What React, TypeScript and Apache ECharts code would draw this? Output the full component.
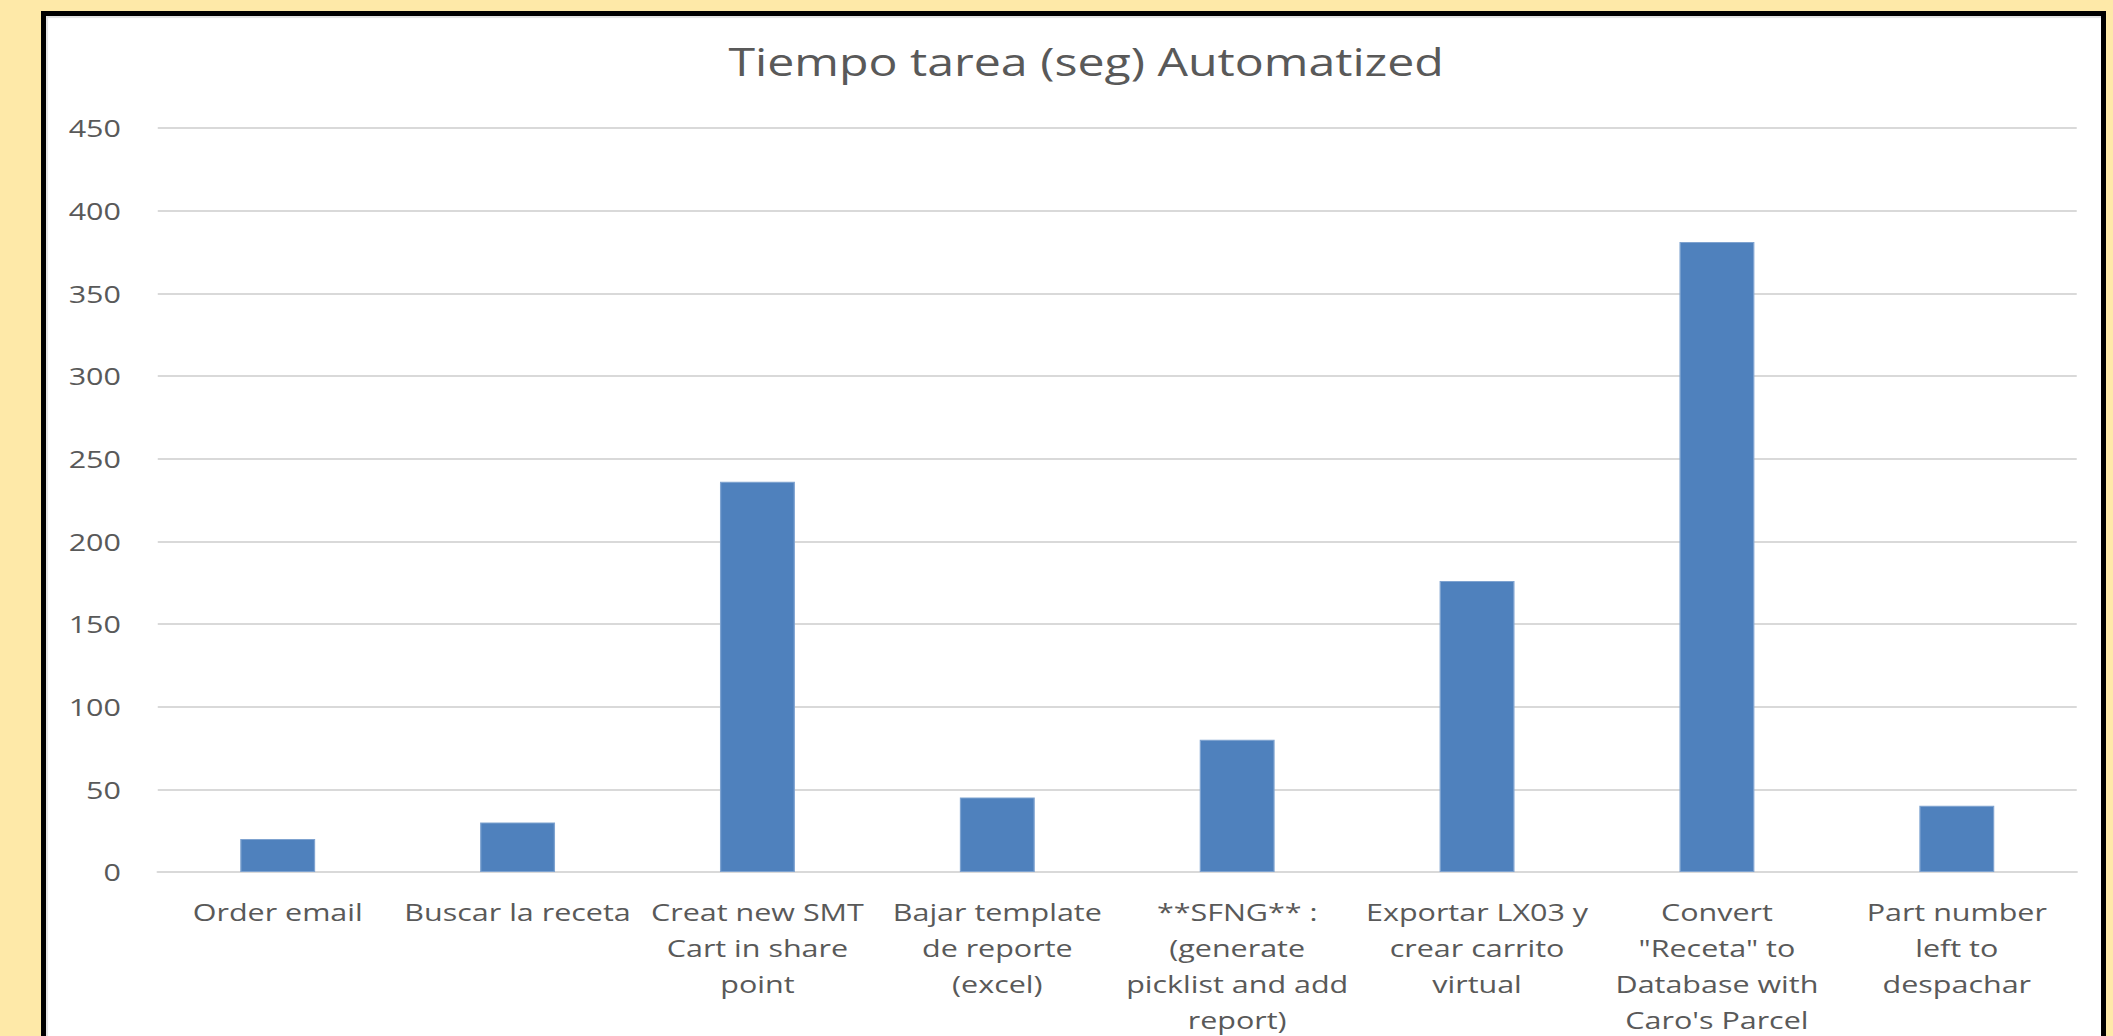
import React, { useEffect, useRef } from "react";
import * as echarts from "echarts";

const titleText = "Tiempo tarea (seg) Automatized";

const categories = [
  "Order email",
  "Buscar la receta",
  "Creat new SMT\nCart in share\npoint",
  "Bajar template\nde reporte\n(excel)",
  "**SFNG** :\n(generate\npicklist and add\nreport)",
  "Exportar LX03 y\ncrear carrito\nvirtual",
  "Convert\n\"Receta\" to\nDatabase with\nCaro's Parcel",
  "Part number\nleft to\ndespachar",
];

const values = [20, 30, 236, 45, 80, 176, 381, 40];

const yMin = 0;
const yMax = 450;
const yInterval = 50;

const SX = 1.27; // horizontal stretch of the original screenshot
const CHART_W = Math.round(2055 / SX);
const CHART_H = 1060;
const FONT = "'Open Sans', 'Noto Sans', sans-serif";
const TEXT_COLOR = "#595959";

export default function App() {
  const ref = useRef<HTMLDivElement>(null);

  useEffect(() => {
    if (!ref.current) return;
    const chart = echarts.init(ref.current, null, {
      renderer: "svg",
      width: CHART_W,
      height: CHART_H,
    });
    chart.setOption({
      animation: false,
      backgroundColor: "transparent",
      title: {
        text: titleText,
        left: 814,
        top: 22,
        textAlign: "center",
        textStyle: {
          fontFamily: FONT,
          fontSize: 38,
          fontWeight: "normal",
          color: TEXT_COLOR,
        },
      },
      grid: {
        left: 88,
        right: 19,
        top: 112,
        bottom: CHART_H - 856,
        containLabel: false,
        outerBoundsMode: "none",
      },
      xAxis: {
        type: "category",
        data: categories,
        axisLine: { show: true, lineStyle: { color: "#D9D9D9", width: 2 } },
        axisTick: { show: false },
        axisLabel: {
          interval: 0,
          hideOverlap: false,
          margin: 22,
          fontFamily: FONT,
          fontSize: 24,
          lineHeight: 36,
          color: TEXT_COLOR,
          align: "center",
        },
      },
      yAxis: {
        type: "value",
        min: yMin,
        max: yMax,
        interval: yInterval,
        axisLine: { show: false },
        axisTick: { show: false },
        splitLine: { show: true, lineStyle: { color: "#D9D9D9", width: 2 } },
        axisLabel: {
          margin: 29,
          fontFamily: FONT,
          fontSize: 24,
          color: TEXT_COLOR,
        },
      },
      series: [
        {
          type: "bar",
          data: values,
          barWidth: 59,
          itemStyle: {
            color: "#4F81BD",
            borderColor: "#7FA3D0",
            borderWidth: 1,
          },
        },
      ],
    });
    return () => chart.dispose();
  }, []);

  return (
    <div
      style={{
        position: "fixed",
        left: 0,
        top: 0,
        width: 2113,
        height: 1036,
        background: "#FEE9A8",
        overflow: "hidden",
      }}
    >
      <div
        style={{
          position: "absolute",
          left: 41,
          top: 11,
          width: 2065,
          height: 1100,
          boxSizing: "border-box",
          border: "5px solid #000",
          background: "#fff",
          boxShadow: "inset 2px 2px 1px #E3E3E3",
          overflow: "hidden",
        }}
      >
        <div
          ref={ref}
          style={{
            position: "absolute",
            left: 0,
            top: 0,
            width: CHART_W,
            height: CHART_H,
            transform: `scaleX(${SX})`,
            transformOrigin: "0 0",
          }}
        />
      </div>
    </div>
  );
}
